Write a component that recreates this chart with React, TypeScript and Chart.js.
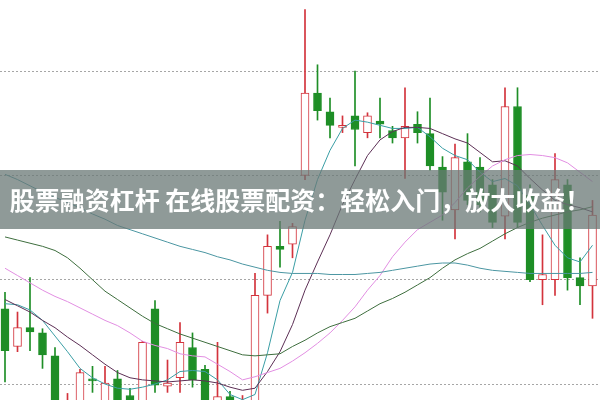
import React, { useEffect, useRef } from 'react';
import { Chart, registerables } from 'chart.js';

Chart.register(...registerables);

// Candles (price units; grid lines at 9, 10, 11, 12)
const opens = [9.72, 9.36, 9.54, 9.49, 9.27, 8.70, 8.75, 9.05, 8.80, 9.05, 8.89, 8.66, 9.72, 8.98, 9.06, 9.35, 9.14, 8.83, 8.88, 8.73, 8.66, 9.85, 10.32, 10.34, 11.00, 11.79, 11.61, 11.46, 11.57, 11.41, 11.52, 11.43, 11.36, 11.49, 11.40, 11.08, 10.67, 11.13, 11.08, 10.91, 10.61, 11.66, 10.81, 10.00, 10.00, 10.91, 10.02, 9.94];
const highs = [9.88, 9.69, 10.02, 9.53, 9.35, 8.91, 9.14, 9.17, 9.17, 9.13, 8.96, 9.41, 9.80, 9.23, 9.59, 9.49, 9.18, 9.40, 8.93, 8.89, 10.06, 10.43, 10.56, 10.54, 12.59, 12.06, 11.74, 11.57, 12.00, 11.60, 11.74, 11.47, 11.84, 11.61, 11.74, 11.18, 11.30, 11.40, 11.17, 10.96, 11.84, 11.84, 10.91, 10.43, 11.21, 10.96, 10.21, 10.76];
const lows = [9.02, 9.31, 9.32, 9.15, 8.66, 8.62, 8.70, 8.92, 8.75, 8.70, 8.75, 8.62, 8.92, 8.92, 8.92, 8.97, 8.70, 8.75, 8.70, 8.66, 8.62, 9.68, 10.12, 10.21, 10.96, 11.53, 11.36, 11.41, 11.09, 11.36, 11.36, 11.31, 10.97, 11.31, 11.05, 10.57, 10.39, 10.72, 10.65, 10.50, 10.39, 10.50, 9.98, 9.76, 9.85, 9.90, 9.76, 9.63];
const closes = [9.32, 9.54, 9.50, 9.28, 8.75, 8.78, 9.11, 9.03, 9.01, 8.75, 8.80, 9.40, 8.99, 9.01, 9.40, 9.04, 8.75, 8.88, 8.75, 8.82, 9.85, 10.32, 10.29, 10.51, 11.79, 11.62, 11.48, 11.48, 11.44, 11.57, 11.49, 11.36, 11.47, 11.41, 11.09, 10.84, 11.17, 10.76, 10.72, 10.55, 11.66, 10.55, 10.00, 10.05, 10.96, 10.02, 9.94, 10.62];

// Moving average lines
const ma5 = [9.77, 9.76, 9.71, 9.61, 9.46, 9.31, 9.15, 9.06, 9.00, 8.96, 8.95, 8.97, 9.00, 9.04, 9.12, 9.13, 9.12, 9.04, 8.90, 8.85, 8.90, 9.30, 9.80, 10.07, 10.57, 10.96, 11.24, 11.45, 11.53, 11.51, 11.48, 11.45, 11.45, 11.46, 11.37, 11.26, 11.19, 11.15, 11.03, 10.94, 10.97, 10.90, 10.72, 10.52, 10.33, 10.21, 10.17, 10.33];
const ma10 = [9.81, 9.75, 9.69, 9.61, 9.54, 9.45, 9.37, 9.28, 9.19, 9.11, 9.06, 9.04, 9.03, 9.02, 9.03, 9.04, 9.03, 9.01, 8.97, 8.94, 8.96, 9.12, 9.31, 9.57, 9.90, 10.17, 10.43, 10.72, 10.96, 11.19, 11.34, 11.42, 11.46, 11.46, 11.45, 11.40, 11.35, 11.31, 11.22, 11.13, 11.14, 11.09, 10.97, 10.86, 10.76, 10.72, 10.69, 10.65];
const ma20 = [10.11, 10.04, 9.97, 9.90, 9.84, 9.79, 9.73, 9.67, 9.61, 9.56, 9.49, 9.41, 9.37, 9.34, 9.29, 9.27, 9.26, 9.19, 9.12, 9.04, 9.07, 9.11, 9.15, 9.22, 9.30, 9.39, 9.49, 9.61, 9.74, 9.90, 10.04, 10.22, 10.36, 10.48, 10.55, 10.62, 10.74, 10.88, 10.99, 11.09, 11.15, 11.19, 11.20, 11.19, 11.17, 11.12, 11.03, 10.94];
const ma30 = [10.41, 10.38, 10.35, 10.32, 10.28, 10.21, 10.11, 10.00, 9.89, 9.81, 9.73, 9.65, 9.58, 9.53, 9.48, 9.44, 9.40, 9.36, 9.32, 9.28, 9.27, 9.28, 9.29, 9.36, 9.42, 9.49, 9.55, 9.59, 9.63, 9.70, 9.77, 9.82, 9.88, 9.95, 10.02, 10.11, 10.19, 10.25, 10.30, 10.37, 10.44, 10.50, 10.55, 10.59, 10.62, 10.65, 10.67, 10.70];
const ma60 = [11.01, 10.96, 10.90, 10.84, 10.79, 10.74, 10.69, 10.63, 10.58, 10.52, 10.48, 10.44, 10.40, 10.36, 10.32, 10.29, 10.26, 10.22, 10.19, 10.15, 10.12, 10.09, 10.07, 10.06, 10.06, 10.06, 10.05, 10.05, 10.05, 10.06, 10.07, 10.09, 10.11, 10.13, 10.15, 10.16, 10.16, 10.14, 10.11, 10.09, 10.08, 10.07, 10.06, 10.06, 10.06, 10.06, 10.06, 10.07];

const gridValues = [9, 10, 11, 12];
const bannerText = '股票融资杠杆 在线股票配资：轻松入门，放大收益！';

const RED = '#d3333c';
const GREEN = '#1e8e26';

export default function App() {
  const ref = useRef<HTMLCanvasElement>(null);

  useEffect(() => {
    document.body.style.margin = '0';
    const idx = opens.map((_, i) => i);
    const up = idx.map((i) => closes[i] >= opens[i]);
    const line = (label: string, data: number[], color: string) => ({
      type: 'line' as const,
      label,
      data: data.map((v, i) => ({ x: i, y: v })),
      borderColor: color,
      borderWidth: 1,
      pointRadius: 0,
      tension: 0,
      fill: false,
      order: 1,
    });
    const chart = new Chart(ref.current!, {
      type: 'bar',
      data: {
        datasets: [
          line('MA60', ma60, '#4b96a2'),
          line('MA30', ma30, '#3e6e3e'),
          line('MA20', ma20, '#e28ee2'),
          line('MA10', ma10, '#5c2f55'),
          line('MA5', ma5, '#3a9ea5'),
          {
            type: 'bar',
            label: 'body',
            data: idx.map((i) => ({ x: i, y: [opens[i], closes[i]] })) as any,
            backgroundColor: idx.map((i) => (up[i] ? '#ffffff' : GREEN)),
            borderColor: idx.map((i) => (up[i] ? RED : GREEN)),
            borderWidth: 1,
            borderSkipped: false,
            barThickness: 8,
            grouped: false,
            order: 2,
          } as any,
          {
            type: 'bar',
            label: 'wick',
            data: idx.map((i) => ({ x: i, y: [lows[i], highs[i]] })) as any,
            backgroundColor: idx.map((i) => (up[i] ? RED : GREEN)),
            borderWidth: 0,
            barThickness: 1,
            grouped: false,
            order: 3,
          } as any,
        ],
      },
      options: {
        animation: false,
        responsive: false,
        maintainAspectRatio: false,
        layout: { padding: 0 },
        plugins: { legend: { display: false }, tooltip: { enabled: false } },
        scales: {
          x: { type: 'linear', display: false, min: -0.4, max: 47.6, offset: false },
          y: {
            type: 'linear',
            min: 8.847,
            max: 12.681,
            afterBuildTicks: (s: any) => {
              s.ticks = gridValues.map((v) => ({ value: v }));
            },
            afterFit: (s: any) => {
              s.width = 0;
            },
            ticks: { display: false },
            grid: { color: '#a6a6a6', lineWidth: 1, drawTicks: false, tickLength: 0 },
            border: { display: false, dash: [2, 2] },
          },
        },
      } as any,
    });
    return () => chart.destroy();
  }, []);

  return (
    <div style={{ position: 'fixed', left: 0, top: 0, width: 600, height: 400, background: '#ffffff', overflow: 'hidden' }}>
      <canvas ref={ref} width={600} height={400} style={{ display: 'block' }} />
      <div
        style={{
          position: 'absolute',
          left: 0,
          top: 170,
          width: 600,
          height: 59,
          background: 'rgba(105,120,118,0.75)',
          color: '#ffffff',
          fontFamily: "'Noto Sans CJK SC', 'Noto Sans', sans-serif",
          fontWeight: 700,
          fontSize: 25,
          lineHeight: '59px',
          textAlign: 'center',
          whiteSpace: 'nowrap',
        }}
      >
        {bannerText}
      </div>
    </div>
  );
}
